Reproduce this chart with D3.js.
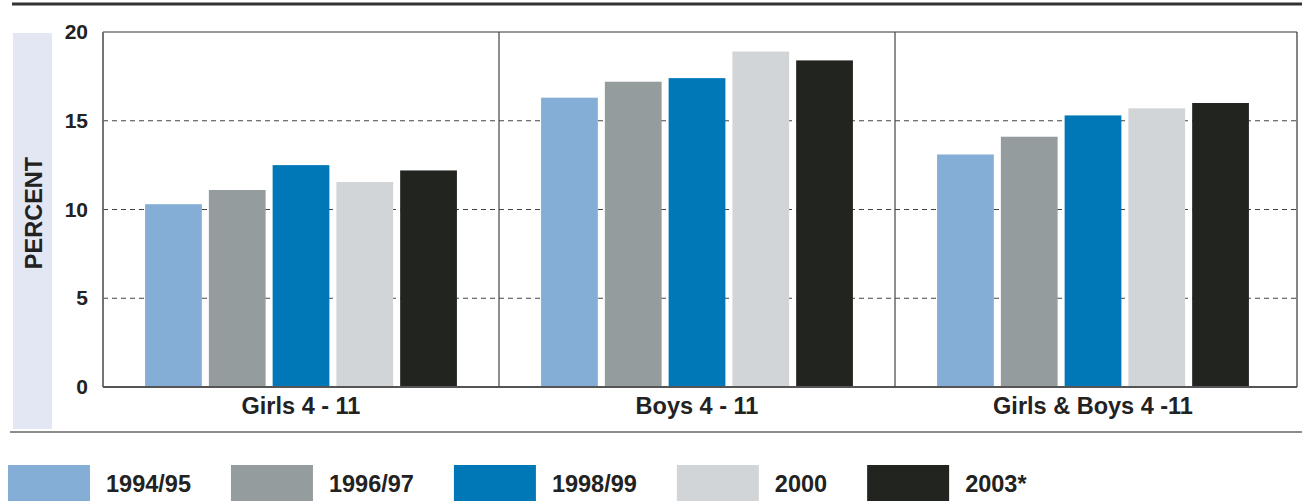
<!DOCTYPE html>
<html>
<head>
<meta charset="utf-8">
<script src="https://cdn.jsdelivr.net/npm/d3@7"></script>
<style>
  body { margin: 0; background: #fff; }
  text { font-family: "Liberation Sans", Arial, Helvetica, sans-serif; font-weight: bold; fill: #222; }
</style>
</head>
<body>
<svg id="chart" width="1302" height="501"></svg>
<script>
// data
const groups = ["Girls 4 - 11", "Boys 4 - 11", "Girls & Boys 4 -11"];
const years = ["1994/95", "1996/97", "1998/99", "2000", "2003*"];
const colors = ["#85aed6", "#959c9e", "#0077b6", "#d2d5d7", "#22241f"];
const girls = [10.3, 11.1, 12.5, 11.55, 12.2];
const boys = [16.3, 17.2, 17.4, 18.9, 18.4];
const both = [13.1, 14.1, 15.3, 15.7, 16.0];
const yTicks = [0, 5, 10, 15, 20];

const series = [girls, boys, both];

const svg = d3.select("#chart");
const plotLeft = 103, plotRight = 1297, plotTop = 32, plotBottom = 387;

// last panel is a touch wider than the others, so the band range stops short of the frame
const x0 = d3.scaleBand().domain(groups).range([plotLeft, 1291]);
const x1 = d3.scaleBand().domain(years).range([0, x0.bandwidth()])
    .paddingInner(0.11).paddingOuter(0.66);
const y = d3.scaleLinear().domain([0, 20]).range([plotBottom, plotTop]);
const color = d3.scaleOrdinal().domain(years).range(colors);

// top rule
svg.append("line")
    .attr("x1", 12).attr("x2", 1302).attr("y1", 4).attr("y2", 4)
    .attr("stroke", "#333").attr("stroke-width", 3);

// pale band behind the y title
svg.append("rect")
    .attr("x", 13).attr("y", 33).attr("width", 39).attr("height", 396)
    .attr("fill", "#e3e7f3");

// bottom rule
svg.append("line")
    .attr("x1", 10).attr("x2", 1302).attr("y1", 432).attr("y2", 432)
    .attr("stroke", "#666").attr("stroke-width", 1.5);

// dashed gridlines
svg.append("g").selectAll("line")
    .data(yTicks.filter(d => d > 0 && d < 20)).enter()
    .append("line")
    .attr("x1", plotLeft).attr("x2", plotRight)
    .attr("y1", d => y(d)).attr("y2", d => y(d))
    .attr("stroke", "#444").attr("stroke-width", 1)
    .attr("stroke-dasharray", "5,4");

// bars
const gGroups = svg.append("g").selectAll("g")
    .data(groups).enter()
    .append("g")
    .attr("transform", d => "translate(" + x0(d) + ",0)");

gGroups.selectAll("rect")
    .data((d, i) => years.map((yr, j) => ({ year: yr, value: series[i][j] })))
    .enter()
    .append("rect")
    .attr("x", d => x1(d.year))
    .attr("width", x1.bandwidth())
    .attr("y", d => y(d.value))
    .attr("height", d => y(0) - y(d.value))
    .attr("fill", d => color(d.year));

// frame and panel dividers
svg.append("line")
    .attr("x1", plotLeft).attr("x2", plotRight).attr("y1", plotTop).attr("y2", plotTop)
    .attr("stroke", "#333").attr("stroke-width", 1.2);
svg.append("line")
    .attr("x1", plotRight).attr("x2", plotRight).attr("y1", plotTop).attr("y2", plotBottom)
    .attr("stroke", "#333").attr("stroke-width", 1.2);
svg.append("line")
    .attr("x1", plotLeft).attr("x2", plotLeft).attr("y1", plotTop).attr("y2", plotBottom)
    .attr("stroke", "#666").attr("stroke-width", 1.8);
svg.append("line")
    .attr("x1", plotLeft).attr("x2", plotRight).attr("y1", plotBottom).attr("y2", plotBottom)
    .attr("stroke", "#555").attr("stroke-width", 1.8);
svg.append("g").selectAll("line")
    .data(groups.slice(1)).enter()
    .append("line")
    .attr("x1", d => x0(d)).attr("x2", d => x0(d))
    .attr("y1", plotTop).attr("y2", plotBottom)
    .attr("stroke", "#444").attr("stroke-width", 1.2);

// y axis labels
const yAxis = svg.append("g")
    .attr("transform", "translate(" + plotLeft + ",0)")
    .call(d3.axisLeft(y).tickValues(yTicks).tickSize(0).tickPadding(15));
yAxis.select(".domain").remove();
yAxis.selectAll("text")
    .style("font-size", "21px")
    .style("font-family", "'Liberation Sans', Arial, sans-serif")
    .style("font-weight", "bold")
    .attr("fill", "#222");

// category labels
const xAxis = svg.append("g")
    .attr("transform", "translate(0," + plotBottom + ")")
    .call(d3.axisBottom(x0).tickSize(0).tickPadding(10));
xAxis.select(".domain").remove();
xAxis.selectAll("text")
    .style("font-size", "23.5px")
    .style("font-family", "'Liberation Sans', Arial, sans-serif")
    .style("font-weight", "bold")
    .attr("fill", "#222");

// y title
svg.append("text")
    .attr("transform", "translate(42,213) rotate(-90)")
    .attr("text-anchor", "middle")
    .style("font-size", "23.5px")
    .text("PERCENT");

// legend, laid out left to right
let lx = 8;
years.forEach((yr, i) => {
    svg.append("rect")
        .attr("x", lx).attr("y", 465).attr("width", 82).attr("height", 36)
        .attr("fill", color(yr));
    const t = svg.append("text")
        .attr("x", lx + 82 + 16).attr("y", 492)
        .style("font-size", "23.5px")
        .text(yr);
    lx += 82 + 16 + t.node().getComputedTextLength() + 40;
});
</script>
</body>
</html>
